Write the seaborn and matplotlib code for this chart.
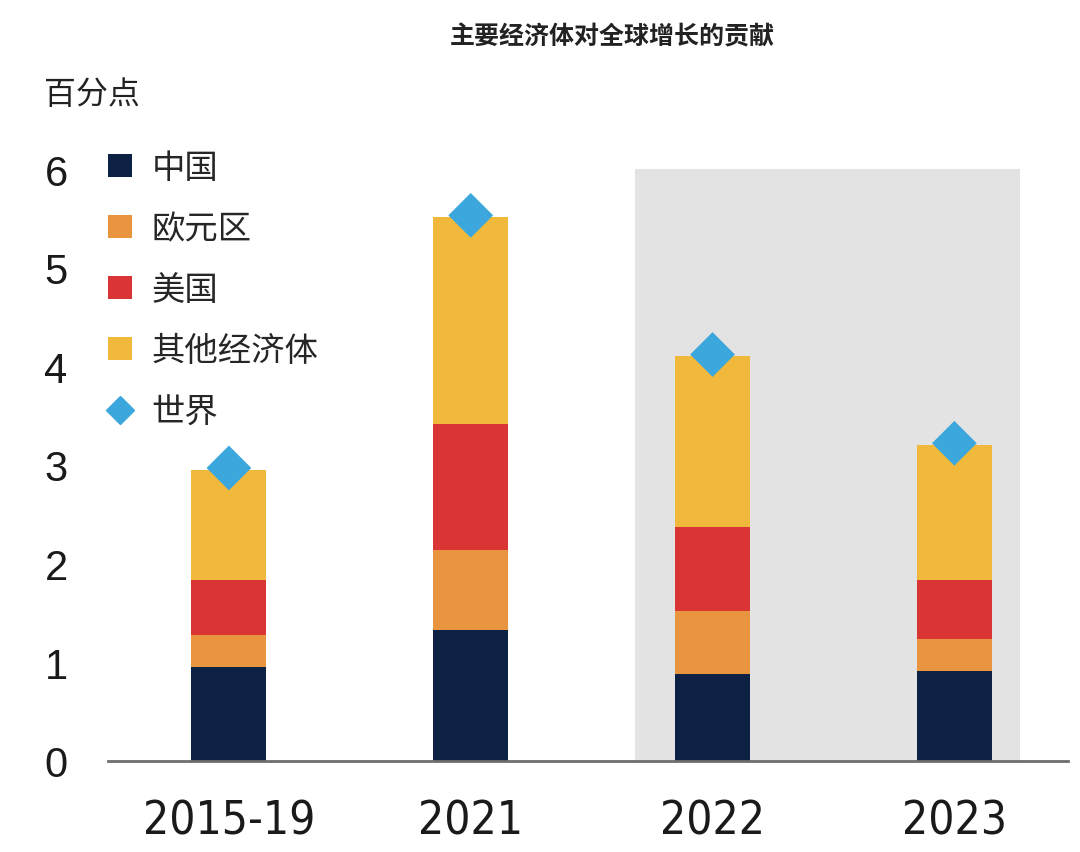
import matplotlib
matplotlib.use("Agg")
import matplotlib.pyplot as plt
import seaborn as sns
import pandas as pd
from matplotlib.patches import Patch
from matplotlib.lines import Line2D

# --- Datos ---
periodos = ['2015-19', '2021', '2022', '2023']
china = [0.95, 1.33, 0.88, 0.91]
eurozona = [0.33, 0.81, 0.64, 0.33]
eeuu = [0.55, 1.28, 0.85, 0.59]
otros = [1.12, 2.09, 1.73, 1.37]
mundo = [2.97, 5.53, 4.12, 3.22]

series = ['中国', '欧元区', '美国', '其他经济体']
colores = ['#0c2144', '#e9953f', '#d93535', '#f1b93c']
color_mundo = '#3ca7dd'

df = pd.DataFrame({'periodo': periodos, '中国': china, '欧元区': eurozona,
                   '美国': eeuu, '其他经济体': otros, '世界': mundo})

sns.set_theme(style="white")
plt.rcParams['font.family'] = ['Noto Sans CJK SC', 'DejaVu Sans']

fig = plt.figure(figsize=(10.8, 8.53), dpi=100)
ax = fig.add_axes([108 / 1080, 1 - 762 / 853, (1068 - 108) / 1080, (762 - 170) / 853])

# zona sombreada (proyecciones)
ax.axvspan(1.68, 3.27, color='#e3e3e3', zorder=0, lw=0)

# barras apiladas
base = [0.0] * len(periodos)
for s, c in zip(series, colores):
    sns.barplot(data=df, x='periodo', y=s, order=periodos, color=c,
                width=0.31, bottom=base, ax=ax, zorder=2, linewidth=0,
                saturation=1)
    base = [b + v for b, v in zip(base, df[s])]

# diamantes del mundo
sns.scatterplot(data=df, x='periodo', y='世界', marker='D', s=520,
                color=color_mundo, edgecolor='none', ax=ax, zorder=4)

ax.set_xlim(-0.5, 3.47)
ax.set_ylim(0, 6)
ax.set_xlabel('')
ax.set_ylabel('')
ax.set_yticks(range(0, 7))
ax.set_yticklabels([str(i) for i in range(0, 7)], family=['Liberation Sans', 'DejaVu Sans'],
                   fontsize=30, color='#1a1a1a')
ax.set_xticks(range(len(periodos)))
ax.set_xticklabels(periodos, family=['DejaVu Sans'], fontstretch='condensed',
                   fontsize=33, color='#1a1a1a')
ax.tick_params(axis='y', length=0, pad=29)
ax.tick_params(axis='x', length=0, pad=27)

for lado in ['top', 'right', 'left']:
    ax.spines[lado].set_visible(False)
ax.spines['bottom'].set_color('#6e6e6e')
ax.spines['bottom'].set_linewidth(2)
ax.spines['bottom'].set_zorder(5)

# leyenda
handles = [Patch(facecolor=c, edgecolor='none') for c in colores]
handles.append(Line2D([], [], marker='D', color=color_mundo, linestyle='none', markersize=14))
fig.legend(handles, series + ['世界'], loc='upper left', bbox_to_anchor=(95 / 1080, 1 - 138 / 853),
           frameon=False, prop={'size': 24, 'weight': 'medium'},
           handlelength=0.7, handleheight=0.7,
           handletextpad=0.6, labelspacing=0.78, borderaxespad=0)

fig.text(612 / 1080, 1 - 37 / 853, '主要经济体对全球增长的贡献', ha='center', va='center',
         fontsize=18, fontweight='bold', color='#222222')
fig.text(44 / 1080, 1 - 95 / 853, '百分点', ha='left', va='center', fontsize=23,
         fontweight='medium', color='#222222')

fig.savefig('out.png', dpi=100)
